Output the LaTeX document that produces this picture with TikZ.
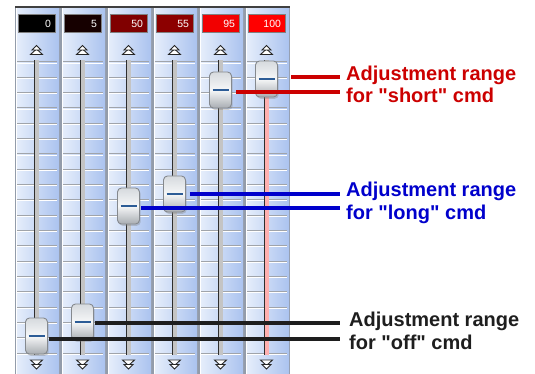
\documentclass[tikz,border=0pt]{standalone}
\usepackage{fontspec}
\setmainfont{Liberation Sans}[Ligatures=TeXOff]
\usetikzlibrary{calc,shadows}
\definecolor{labred}{HTML}{CC0000}
\definecolor{labblue}{HTML}{0000CC}
\definecolor{labblack}{HTML}{1E1E1E}
\definecolor{stripL}{HTML}{E6EEFB}
\definecolor{stripR}{HTML}{ABC3EF}
\definecolor{sepgray}{HTML}{939CAA}
\definecolor{tickgray}{HTML}{A0A4AA}
\definecolor{trackdk}{HTML}{2E2E2E}
\definecolor{trackfill}{HTML}{C4C4C4}
\definecolor{trackpink}{HTML}{FFB0B0}
\definecolor{thumbedge}{HTML}{85898E}
\definecolor{thumbtop}{HTML}{D6DADE}
\definecolor{thumbbot}{HTML}{A8ADB2}
\definecolor{thumbmid}{HTML}{F6F7F8}
\definecolor{thumbln}{HTML}{2C5C96}
\definecolor{boxedge}{HTML}{808080}
\definecolor{vA}{HTML}{000000}
\definecolor{vB}{HTML}{160000}
\definecolor{vC}{HTML}{800000}
\definecolor{vD}{HTML}{8C0000}
\definecolor{vE}{HTML}{F20000}
\definecolor{vF}{HTML}{FF0000}
\tikzset{
  valbox/.style={draw=boxedge, line width=1pt, minimum height=18pt, text width=29pt,
    inner xsep=4pt, inner ysep=0pt, align=right, text=white,
    font=\fontsize{10.5}{10.5}\selectfont},
  thumb/.style={draw=thumbedge, line width=0.9pt, rounded corners=4pt,
    minimum width=22pt, minimum height=36pt, inner sep=0pt,
    top color=thumbtop, bottom color=thumbbot, middle color=thumbmid,
    drop shadow={opacity=0.35, shadow xshift=1.2pt, shadow yshift=-1.8pt}},
  thumbmark/.style={draw=thumbln, line width=1.5pt},
  lab/.style={anchor=base west, inner sep=0pt, font=\bfseries\fontsize{20}{22}\selectfont},
  conn/.style={line width=4pt},
  arrowic/.style={draw=black!85, fill=white, line width=0.9pt, line join=miter},
}
\begin{document}
\begin{tikzpicture}[x=1pt,y=-1pt]
\useasboundingbox (0,0) rectangle (535,374);
\fill[white] (0,0) rectangle (535,374);
% panel
\fill[sepgray] (15,8) rectangle (290,374);
\fill[black!75] (15,6) rectangle (290,8.5);
\foreach \i/\v/\c in {0/0/vA,1/5/vB,2/50/vC,3/55/vD,4/95/vE,5/100/vF} {
  \pgfmathsetmacro{\L}{15+46*\i}
  \pgfmathsetmacro{\C}{\L+21}
  \fill[left color=stripL, right color=stripR] (\L+1,8.5) rectangle (\L+44,374);
  \draw[white, line width=0.8pt] (\L+1.4,8.5) -- (\L+1.4,374);
  \node[valbox, fill=\c] (box\i) at (\L+21.5,24) {\v};
  \foreach \k in {0,...,19} {
    \draw[tickgray, line width=1pt] (\L+2,62+15.32*\k) -- (\L+42,62+15.32*\k);
    \draw[white, line width=0.8pt] (\L+2,63+15.32*\k) -- (\L+42,63+15.32*\k);
  }
  \fill[trackfill] (\C-1,60) rectangle (\C+3,355);
  \fill[trackdk] (\C-2.5,60) rectangle (\C-1,355);
  % up arrow
  \draw[arrowic] (\C+0.5,49) -- (\C+6.5,54.5) -- (\C-5.5,54.5) -- cycle;
  \draw[arrowic] (\C+0.5,45.5) -- (\C+5,50) -- (\C-4,50) -- cycle;
  % down arrow
  \draw[arrowic] (\C+0.5,365.5) -- (\C+6.5,360) -- (\C-5.5,360) -- cycle;
  \draw[arrowic] (\C+0.5,369) -- (\C+5,364.5) -- (\C-4,364.5) -- cycle;
}
\fill[trackpink] (266-1,97) rectangle (266+3,355);
% thumbs
\node[thumb] (t1) at (36.5,336) {};
\node[thumb] (t2) at (82.5,322) {};
\node[thumb] (t3) at (128.5,206) {};
\node[thumb] (t4) at (174.5,194) {};
\node[thumb] (t5) at (220.5,90) {};
\node[thumb] (t6) at (266.5,79) {};
\foreach \t in {t1,t2,t3,t4,t5,t6}
  \draw[thumbmark] ([xshift=-8pt]\t.center) -- ([xshift=8pt]\t.center);
% labels
\node[lab, text=labred] (rA) at (346,81) {Adjustment range};
\node[lab, text=labred] (rB) at (346,103) {for "short" cmd};
\node[lab, text=labblue] (bA) at (346,196.5) {Adjustment range};
\node[lab, text=labblue] (bB) at (346,219) {for "long" cmd};
\node[lab, text=labblack] (kA) at (349,326.5) {Adjustment range};
\node[lab, text=labblack] (kB) at (349,349.5) {for "off" cmd};
% connectors
\coordinate (lineend) at (340,0);
\coordinate (rs1) at ($(t6.east)+(13.5,-2)$);
\coordinate (rs2) at ($(t5.east)+(4.5,2.5)$);
\coordinate (bs1) at ($(t4.east)+(4,0.5)$);
\coordinate (bs2) at ($(t3.east)+(1.5,1.5)$);
\coordinate (ks1) at ($(t2.east)+(1.5,1)$);
\coordinate (ks2) at ($(t1.east)+(1.5,2.5)$);
\draw[conn, labred] (rs1) -- (rs1 -| lineend);
\draw[conn, labred] (rs2) -- (rs2 -| lineend);
\draw[conn, labblue] (bs1) -- (bs1 -| lineend);
\draw[conn, labblue] (bs2) -- (bs2 -| lineend);
\draw[conn, labblack] (ks1) -- (ks1 -| lineend);
\draw[conn, labblack] (ks2) -- (ks2 -| lineend);
\end{tikzpicture}
\end{document}
